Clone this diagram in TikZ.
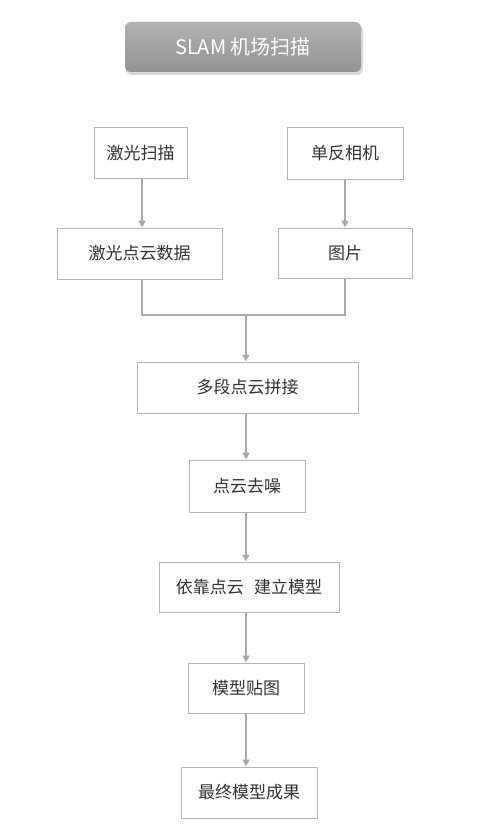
\documentclass[tikz,border=0pt]{standalone}
\usepackage{fontspec}
\setmainfont{Noto Sans CJK SC}
\usetikzlibrary{arrows.meta,shadows,positioning}
\definecolor{linegray}{HTML}{AAAAAA}
\definecolor{boxgray}{HTML}{B5B5B5}
\definecolor{txt}{HTML}{333333}
\tikzset{
  box/.style={draw=boxgray, line width=1pt, fill=white, text=txt, font=\fontsize{17}{19}\selectfont, inner sep=0pt},
  conn/.style={draw=linegray, line width=1.6pt, -{Triangle[width=7pt,length=7pt]}},
  line/.style={draw=linegray, line width=1.6pt},
}
\begin{document}
\begin{tikzpicture}[x=1pt,y=-1pt]
\useasboundingbox (0,0) rectangle (480,824);
% title
\fill[black!25, rounded corners=6pt, opacity=0.6] (126,25) rectangle (363,75);
\shade[top color=gray!60, bottom color=gray!85, rounded corners=6pt] (125,22) rectangle (361,72);
\node[text=white, font=\fontsize{20}{22}\selectfont] (title) at (243,47) {SLAM 机场扫描};
% boxes
\node[box, minimum width=93pt, minimum height=50pt] (a) at (140.5,153) {激光扫描};
\node[box, minimum width=116pt, minimum height=51pt] (b) at (345,153.5) {单反相机};
\node[box, minimum width=165pt, minimum height=51pt] (c) at (139.5,253.5) {激光点云数据};
\node[box, minimum width=134pt, minimum height=50pt] (d) at (345,253) {图片};
\node[box, minimum width=221pt, minimum height=51pt] (e) at (247.5,387.5) {多段点云拼接};
\node[box, minimum width=116pt, minimum height=52pt] (f) at (247,486) {点云去噪};
\node[box, minimum width=180pt, minimum height=50pt] (g) at (249,587) {依靠点云\hspace{0.6em}建立模型};
\node[box, minimum width=116pt, minimum height=50pt] (h) at (246,688) {模型贴图};
\node[box, minimum width=136pt, minimum height=51pt] (i) at (249,792.5) {最终模型成果};
% connectors
\coordinate (m) at (246,315);
\coordinate (lx) at (142,0);
\draw[conn] (a.south -| lx) -- (c.north -| lx);
\draw[conn] (b.south) -- (d.north);
\draw[line] (c.south -| lx) |- (m);
\draw[line] (d.south) |- (m);
\draw[conn] (m) -- (m |- e.north);
\draw[conn] (e.south -| m) -- (m |- f.north);
\draw[conn] (f.south -| m) -- (m |- g.north);
\draw[conn] (g.south -| m) -- (m |- h.north);
\draw[conn] (h.south -| m) -- (m |- i.north);
\end{tikzpicture}
\end{document}
